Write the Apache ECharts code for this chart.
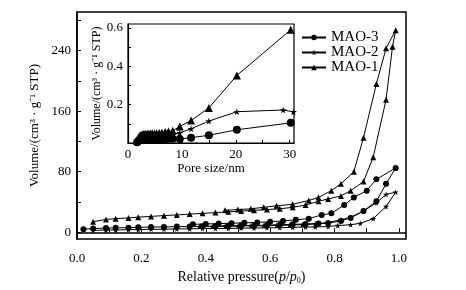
<!DOCTYPE html>
<html>
<head>
<meta charset="utf-8">
<script src="https://cdn.jsdelivr.net/npm/echarts@6/dist/echarts.min.js"></script>
<style>
  html, body { margin: 0; padding: 0; background: #fff; }
  #chart { width: 466px; height: 290px; }
</style>
</head>
<body>
<div id="chart"></div>
<script>
// main isotherms: adsorption branch then desorption branch
const mao1X = [0.05, 0.09, 0.12, 0.16, 0.19, 0.23, 0.27, 0.31, 0.35, 0.39, 0.43, 0.47, 0.51, 0.55, 0.59, 0.63, 0.67, 0.71, 0.75, 0.78, 0.82, 0.85, 0.89, 0.92, 0.96, 0.98, 0.99,
  0.96, 0.93, 0.89, 0.86, 0.82, 0.79, 0.75, 0.72, 0.67, 0.62, 0.58, 0.54, 0.5, 0.46];
const mao1Y = [14, 17, 18, 19, 20, 21, 22, 23, 24, 25, 26, 27, 28, 29, 30, 31, 33, 36, 41, 44, 48, 55, 67, 99, 175, 245, 267,
  243, 196, 125, 80, 64, 55, 46, 42, 37, 35, 33, 31, 30, 29];

const mao2X = [0.05, 0.09, 0.12, 0.16, 0.19, 0.23, 0.27, 0.31, 0.35, 0.39, 0.43, 0.47, 0.51, 0.55, 0.59, 0.63, 0.67, 0.71, 0.74, 0.78, 0.81, 0.85, 0.88, 0.92, 0.96, 0.99,
  0.96, 0.93, 0.89, 0.85, 0.82, 0.78, 0.74, 0.7, 0.66, 0.62, 0.58, 0.54, 0.5, 0.46, 0.42, 0.38];
const mao2Y = [2.5, 3, 3, 3.5, 3.5, 4, 4, 4.5, 4.5, 5, 5, 5, 5.5, 5.5, 6, 6, 6.5, 7, 7, 7.6, 8.9, 10, 11.8, 18, 34, 53,
  50, 39, 28, 20, 16.5, 13, 11, 10, 9.5, 9, 8.5, 8.5, 8, 8, 7.5, 7.5];

const mao3X = [0.02, 0.05, 0.09, 0.12, 0.16, 0.19, 0.23, 0.27, 0.31, 0.35, 0.39, 0.43, 0.47, 0.51, 0.55, 0.59, 0.63, 0.67, 0.71, 0.75, 0.78, 0.82, 0.85, 0.89, 0.93, 0.96, 0.99,
  0.93, 0.9, 0.86, 0.83, 0.79, 0.76, 0.72, 0.68, 0.64, 0.6, 0.56, 0.52, 0.48, 0.44, 0.4, 0.36];
const mao3Y = [4, 5, 5.5, 6, 6, 6.5, 7, 7, 7.5, 7.5, 8, 8, 8.5, 9, 9, 9.5, 10, 10.5, 11, 11.5, 12, 15, 19, 28, 41, 64, 85,
  70, 55, 46, 36, 25, 23, 18, 16.5, 15, 14, 13, 12.5, 12, 11.5, 11, 10.5];

// inset: pore size distribution
const poreX = [1.7, 1.9, 2.1, 2.3, 2.5, 2.7, 2.9, 3.1, 3.3, 3.6, 3.9, 4.2, 4.5, 4.9, 5.3, 5.8, 6.3, 6.9, 7.5, 8.3, 9.6, 11.7, 15.0, 20.2, 30.2];
const pore1Y = [0.01, 0.025, 0.035, 0.04, 0.042, 0.044, 0.045, 0.046, 0.047, 0.048, 0.048, 0.049, 0.05, 0.05, 0.051, 0.052, 0.054, 0.057, 0.06, 0.064, 0.086, 0.117, 0.183, 0.352, 0.59];
const pore2X = [1.7, 1.9, 2.1, 2.3, 2.5, 2.7, 2.9, 3.1, 3.3, 3.6, 3.9, 4.2, 4.5, 4.9, 5.3, 5.8, 6.3, 6.9, 7.5, 8.3, 9.6, 11.7, 15.0, 20.2, 28.8, 30.7];
const pore2Y = [0.008, 0.02, 0.028, 0.031, 0.033, 0.034, 0.035, 0.035, 0.036, 0.036, 0.037, 0.037, 0.038, 0.038, 0.039, 0.039, 0.04, 0.041, 0.043, 0.046, 0.053, 0.074, 0.114, 0.163, 0.172, 0.162];
const pore3Y = [0.004, 0.01, 0.014, 0.016, 0.017, 0.018, 0.018, 0.019, 0.019, 0.019, 0.02, 0.02, 0.02, 0.02, 0.02, 0.021, 0.021, 0.021, 0.022, 0.022, 0.021, 0.028, 0.04, 0.069, 0.105];

const seriesNames = ['MAO-3', 'MAO-2', 'MAO-1'];
const xTicks = [0, 0.1, 0.2, 0.3, 0.4, 0.5, 0.6, 0.7, 0.8, 0.9, 1.0];
const xLabels = [0, 0.2, 0.4, 0.6, 0.8, 1.0];
const yTicks = [0, 40, 80, 120, 160, 200, 240, 280];
const yLabels = [0, 80, 160, 240];
const insetXTicks = [0, 5, 10, 15, 20, 25, 30];
const insetXLabels = [0, 10, 20, 30];
const insetYTicks = [0.1, 0.2, 0.3, 0.4, 0.5, 0.6];
const insetYLabels = [0.2, 0.4, 0.6];

const STAR = 'path://M50,0 L61,35 L98,35 L68,57 L79,91 L50,70 L21,91 L32,57 L2,35 L39,35 Z';
const FONT = 'Liberation Serif';
const pairs = (xs, ys) => xs.map((x, i) => [x, ys[i]]);

const chart = echarts.init(document.getElementById('chart'));

const axisBase = {
  type: 'value',
  axisLine: { show: true, lineStyle: { color: '#000', width: 1.5 } },
  axisTick: { show: true, inside: true, length: 4, lineStyle: { color: '#000' } },
  splitLine: { show: false },
  nameTextStyle: { color: '#000', fontFamily: FONT },
};

const option = {
  animation: false,
  backgroundColor: '#fff',
  textStyle: { fontFamily: FONT, color: '#000' },
  grid: [
    { left: 77, top: 12, right: 60, bottom: 42, show: true, borderColor: '#000', borderWidth: 1.5 },
    { left: 128, top: 24, right: 172, bottom: 147, show: true, borderColor: '#000', borderWidth: 1.2, backgroundColor: '#fff', z: 5 },
  ],
  legend: {
    orient: 'vertical',
    left: 296,
    top: 25,
    itemWidth: 24,
    itemHeight: 7,
    itemGap: 0,
    data: seriesNames,
    textStyle: { fontFamily: FONT, fontSize: 15, color: '#000', lineHeight: 15 },
  },
  xAxis: [
    {
      ...axisBase, gridIndex: 0, min: 0, max: 1.022,
      axisTick: { ...axisBase.axisTick, customValues: xTicks },
      axisLabel: { customValues: xLabels, color: '#000', fontFamily: FONT, fontSize: 13, margin: 13, formatter: v => v.toFixed(1) },
      name: '{n|Relative pressure(}{i|p}{n|/}{i|p}{s|0}{n|)}',
      nameLocation: 'middle', nameGap: 21,
      nameTextStyle: {
        rich: {
          n: { fontFamily: FONT, fontSize: 14, color: '#000' },
          i: { fontFamily: FONT, fontSize: 14, fontStyle: 'italic', color: '#000' },
          s: { fontFamily: FONT, fontSize: 8, color: '#000', verticalAlign: 'bottom', padding: [8, 0, 0, 0] },
        },
      },
    },
    {
      ...axisBase, gridIndex: 1, min: 0, max: 30.8, z: 6,
      axisLine: { show: true, lineStyle: { color: '#000', width: 1.2 } },
      axisTick: { ...axisBase.axisTick, length: 3, customValues: insetXTicks },
      axisLabel: { customValues: insetXLabels, color: '#000', fontFamily: FONT, fontSize: 13, margin: 5 },
      name: 'Pore size/nm', nameLocation: 'middle', nameGap: 19,
      nameTextStyle: { fontFamily: FONT, fontSize: 13, color: '#000' },
    },
  ],
  yAxis: [
    {
      ...axisBase, gridIndex: 0, min: -9, max: 291,
      axisTick: { ...axisBase.axisTick, customValues: yTicks },
      axisLabel: { customValues: yLabels, color: '#000', fontFamily: FONT, fontSize: 13, margin: 6 },
      name: 'Volume/(cm³ · g⁻¹ STP)', nameLocation: 'middle', nameGap: 30,
      nameTextStyle: { fontFamily: FONT, fontSize: 13, color: '#000' },
    },
    {
      ...axisBase, gridIndex: 1, min: 0, max: 0.62, z: 6,
      axisLine: { show: true, lineStyle: { color: '#000', width: 1.2 } },
      axisTick: { ...axisBase.axisTick, length: 3, customValues: insetYTicks },
      axisLabel: { customValues: insetYLabels, color: '#000', fontFamily: FONT, fontSize: 13, margin: 5, formatter: v => String(v) },
      name: 'Volume/(cm³ · g⁻¹ STP)', nameLocation: 'middle', nameGap: 25,
      nameTextStyle: { fontFamily: FONT, fontSize: 12, color: '#000' },
    },
  ],
  series: [
    { name: 'MAO-3', type: 'line', xAxisIndex: 0, yAxisIndex: 0, data: pairs(mao3X, mao3Y), symbol: 'circle', symbolSize: 6 },
    { name: 'MAO-2', type: 'line', xAxisIndex: 0, yAxisIndex: 0, data: pairs(mao2X, mao2Y), symbol: STAR, symbolSize: 6 },
    { name: 'MAO-1', type: 'line', xAxisIndex: 0, yAxisIndex: 0, data: pairs(mao1X, mao1Y), symbol: 'triangle', symbolSize: 6 },
    { name: 'MAO-3', type: 'line', xAxisIndex: 1, yAxisIndex: 1, data: pairs(poreX, pore3Y), symbol: 'circle', symbolSize: 8, z: 7 },
    { name: 'MAO-2', type: 'line', xAxisIndex: 1, yAxisIndex: 1, data: pairs(pore2X, pore2Y), symbol: STAR, symbolSize: 7, z: 7 },
    { name: 'MAO-1', type: 'line', xAxisIndex: 1, yAxisIndex: 1, data: pairs(poreX, pore1Y), symbol: 'triangle', symbolSize: 8, z: 7 },
  ].map(s => ({
    ...s,
    showAllSymbol: true,
    itemStyle: { color: '#000' },
    lineStyle: { color: '#000', width: 1 },
    clip: true,
  })),
};

chart.setOption(option);
</script>
</body>
</html>
